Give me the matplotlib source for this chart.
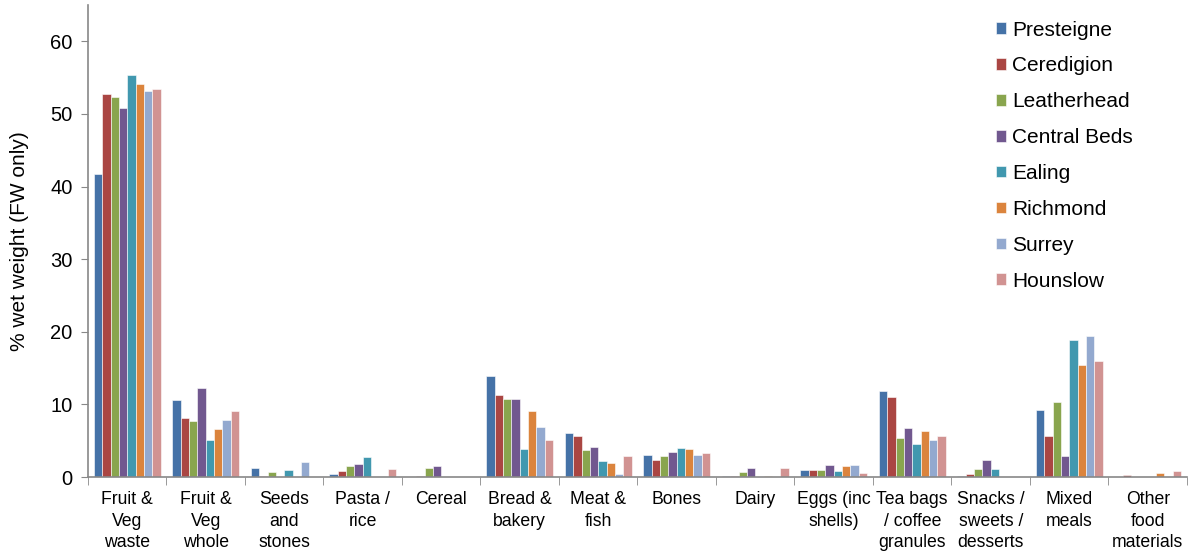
import numpy as np
import matplotlib
matplotlib.use("Agg")
import matplotlib.pyplot as plt

plt.rcParams['font.family'] = ['Liberation Sans', 'DejaVu Sans']

categories = ["Fruit &\nVeg\nwaste", "Fruit &\nVeg\nwhole", "Seeds\nand\nstones", "Pasta /\nrice",
              "Cereal", "Bread &\nbakery", "Meat &\nfish", "Bones", "Dairy", "Eggs (inc\nshells)",
              "Tea bags\n/ coffee\ngranules", "Snacks /\nsweets /\ndesserts", "Mixed\nmeals",
              "Other\nfood\nmaterials"]

presteigne = [41.7, 10.6, 1.2, 0.4, 0.0, 13.9, 6.0, 3.1, 0.1, 1.0, 11.8, 0.2, 9.3, 0.05]
ceredigion = [52.7, 8.1, 0.1, 0.8, 0.2, 11.3, 5.6, 2.4, 0.2, 1.0, 11.0, 0.4, 5.6, 0.3]
leatherhead = [52.4, 7.7, 0.7, 1.5, 1.2, 10.8, 3.7, 2.9, 0.7, 1.0, 5.4, 1.1, 10.3, 0.0]
central_beds = [50.8, 12.3, 0.0, 1.75, 1.5, 10.7, 4.1, 3.5, 1.3, 1.6, 6.7, 2.35, 2.85, 0.0]
ealing = [55.4, 5.15, 1.0, 2.7, 0.0, 3.8, 2.15, 4.0, 0.0, 0.9, 4.55, 1.05, 18.9, 0.0]
richmond = [54.1, 6.6, 0.0, 0.0, 0.0, 9.1, 1.9, 3.8, 0.2, 1.5, 6.35, 0.0, 15.4, 0.6]
surrey = [53.2, 7.8, 2.1, 0.0, 0.0, 6.9, 0.45, 3.0, 0.0, 1.7, 5.1, 0.0, 19.4, 0.0]
hounslow = [53.5, 9.15, 0.0, 1.05, 0.0, 5.05, 2.85, 3.3, 1.3, 0.6, 5.7, 0.0, 16.0, 0.85]

series = [("Presteigne", presteigne, "#4572A7"),
          ("Ceredigion", ceredigion, "#AA4643"),
          ("Leatherhead", leatherhead, "#89A54E"),
          ("Central Beds", central_beds, "#71588F"),
          ("Ealing", ealing, "#4198AF"),
          ("Richmond", richmond, "#DB843D"),
          ("Surrey", surrey, "#93A9CF"),
          ("Hounslow", hounslow, "#D19392")]

fig = plt.figure(figsize=(11.92, 5.56), dpi=100)
ax = fig.add_axes([0.0738, 0.142, 0.922, 0.849])

x = np.arange(len(categories))
n = len(series)
width = 0.106
for i, (name, vals, col) in enumerate(series):
    offs = (i - (n - 1) / 2) * width
    ax.bar(x + offs, vals, width, color=col, edgecolor="white", linewidth=0.4, label=name)

ax.set_xlim(-0.5, len(categories) - 0.5)
ax.set_ylim(0, 65)
ax.set_yticks(range(0, 61, 10))
ax.tick_params(axis="y", labelsize=14.5, length=5, color="#888888", pad=6)

# category names centred, tick marks only on the group boundaries
ax.set_xticks(x)
ax.set_xticklabels(categories, fontsize=12.7, linespacing=1.36)
ax.tick_params(axis="x", which="major", length=0, pad=10)
ax.set_xticks(np.arange(-0.5, len(categories), 1.0), minor=True)
ax.tick_params(axis="x", which="minor", length=6, color="#888888")

for s in ["top", "right"]:
    ax.spines[s].set_visible(False)
for s in ["left", "bottom"]:
    ax.spines[s].set_color("#888888")
    ax.spines[s].set_linewidth(1.2)

ax.set_ylabel("% wet weight (FW only)", fontsize=15, labelpad=15)

ax.legend(loc="upper left", bbox_to_anchor=(0.826, 0.967), frameon=False, fontsize=15,
          borderaxespad=0, borderpad=0,
          handlelength=0.48, handleheight=0.48, handletextpad=0.29, labelspacing=0.81)

fig.savefig("out.png", dpi=100)
